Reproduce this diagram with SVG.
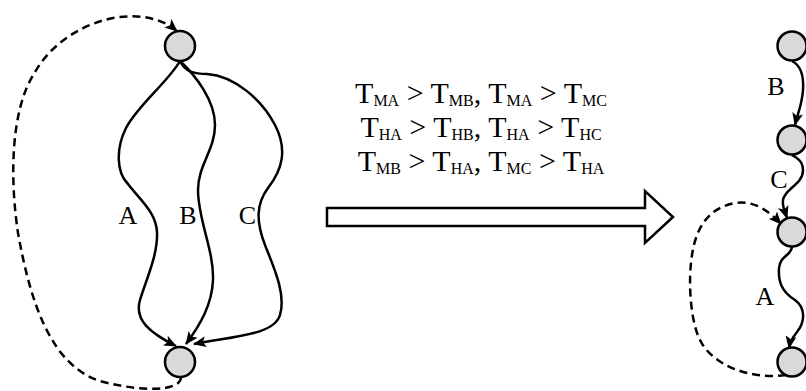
<svg xmlns="http://www.w3.org/2000/svg" width="806" height="391" viewBox="0 0 806 391">
<style>
.node{fill:#d9d9d9;stroke:#000;stroke-width:2.5}
.edge{fill:none;stroke:#000;stroke-width:2.5;marker-end:url(#ah)}
.dash{fill:none;stroke:#000;stroke-width:2.5;stroke-dasharray:8 5;marker-end:url(#ah)}
.lbl{font-family:"Liberation Serif","Times New Roman",serif;font-size:26px;fill:#000;text-anchor:middle}
.eq{font-family:"Liberation Serif","Times New Roman",serif;font-size:30px;fill:#000;text-anchor:middle}
.sub{font-size:16px}
</style>
<defs>
<marker id="ah" viewBox="0 0 13 11" refX="12" refY="5.5" markerWidth="13" markerHeight="11" markerUnits="userSpaceOnUse" orient="auto">
<path d="M0,0 L13,5.5 L0,11 L3,5.5 z" fill="#000"/>
</marker>
</defs>
<g id="connectors">
<path class="edge" d="M180,61 C168,82 138,105 126,128 C116,148 116,172 128,184 C140,200 156,212 157,232 C158,255 146,280 140,300 C134,320 150,333 176,346"/>
<path class="edge" d="M180,61 C195,75 215,100 215,125 C215,150 198,165 198,190 C198,220 214,250 213,280 C212,305 200,325 186,344"/>
<path class="edge" d="M180,61 C185,72 195,74 207,74 C235,76 262,100 275,125 C288,150 282,170 268,188 C256,204 256,222 265,245 C275,270 286,295 280,315 C274,335 235,336 194,344"/>
<path class="dash" d="M181,377 C181,392 140,392 100,381 C50,365 30,300 18,233 C10,180 10,110 35,72 C65,20 140,0 177,31"/>
<path class="edge" d="M792,61 C800,65 804,75 803,90 C802,105 798,112 795,125"/>
<path class="edge" d="M792,155 C795,157 803,160 803,170 C803,185 785,188 783,200 C782,207 785,212 787,218"/>
<path class="edge" d="M792,246 C792,256 780,255 779,268 C778,282 782,292 795,300 C806,308 805,322 797,332 C793,337 790,342 789,348"/>
<path class="dash" d="M786,375 C750,380 712,365 700,340 C690,320 688,280 692,255 C696,228 708,208 735,203 C755,200 770,212 781,224"/>
</g>
<g id="node-L-top"><circle class="node" cx="180" cy="46" r="15"/></g>
<g id="node-L-bottom"><circle class="node" cx="180" cy="362" r="15"/></g>
<g id="node-R1"><circle class="node" cx="792" cy="46" r="14.5"/></g>
<g id="node-R2"><circle class="node" cx="792" cy="140" r="14.5"/></g>
<g id="node-R3"><circle class="node" cx="792" cy="232" r="14.5"/></g>
<g id="node-R4"><circle class="node" cx="792" cy="362" r="14.5"/></g>
<g id="labels">
<text class="lbl" x="128" y="224">A</text>
<text class="lbl" x="188" y="224">B</text>
<text class="lbl" x="247.5" y="224">C</text>
<text class="lbl" x="776" y="95">B</text>
<text class="lbl" x="779" y="188">C</text>
<text class="lbl" x="765" y="305">A</text>
</g>
<g id="conditions">
<text class="eq" x="481" y="103">T<tspan class="sub" dy="3">MA</tspan><tspan dy="-3"> &gt; T</tspan><tspan class="sub" dy="3">MB</tspan><tspan dy="-3">, T</tspan><tspan class="sub" dy="3">MA</tspan><tspan dy="-3"> &gt; T</tspan><tspan class="sub" dy="3">MC</tspan></text>
<text class="eq" x="481" y="137">T<tspan class="sub" dy="3">HA</tspan><tspan dy="-3"> &gt; T</tspan><tspan class="sub" dy="3">HB</tspan><tspan dy="-3">, T</tspan><tspan class="sub" dy="3">HA</tspan><tspan dy="-3"> &gt; T</tspan><tspan class="sub" dy="3">HC</tspan></text>
<text class="eq" x="481" y="171">T<tspan class="sub" dy="3">MB</tspan><tspan dy="-3"> &gt; T</tspan><tspan class="sub" dy="3">HA</tspan><tspan dy="-3">, T</tspan><tspan class="sub" dy="3">MC</tspan><tspan dy="-3"> &gt; T</tspan><tspan class="sub" dy="3">HA</tspan></text>
</g>
<g id="big-arrow">
<polygon points="327,208 645,208 645,191 673,217 645,243 645,226 327,226" fill="#fff" stroke="#000" stroke-width="2.5" stroke-linejoin="miter"/>
</g>
</svg>
